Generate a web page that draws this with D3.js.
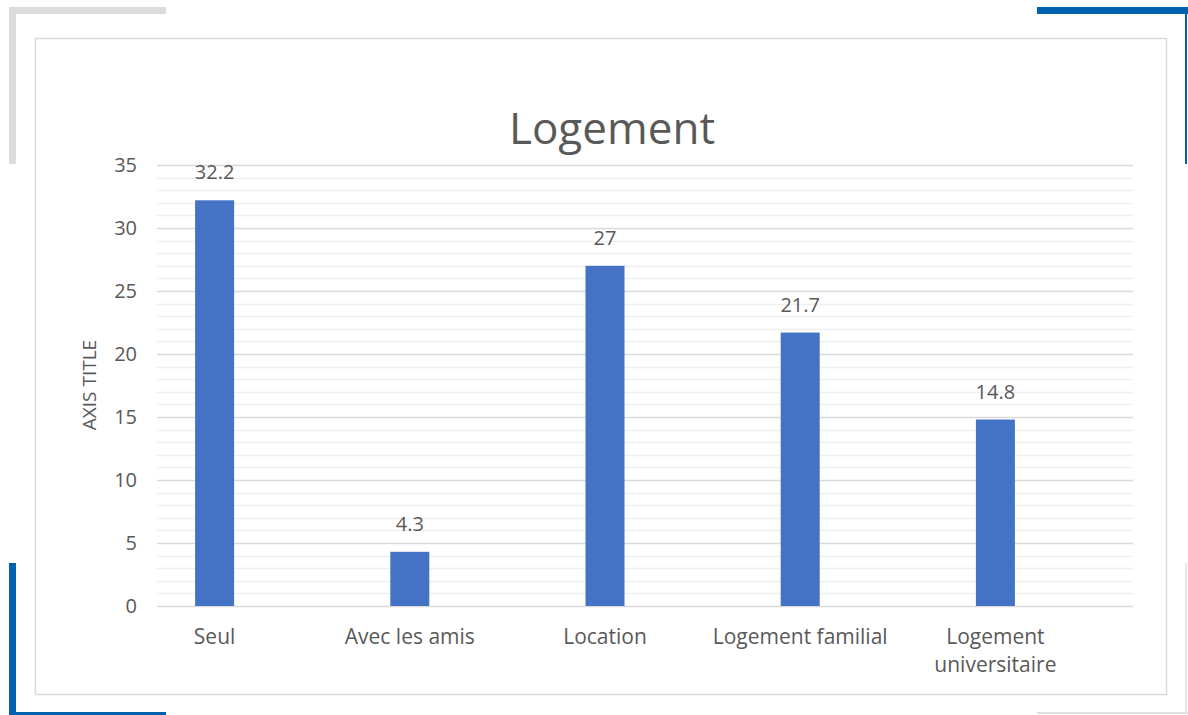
<!DOCTYPE html>
<html><head><meta charset="utf-8">
<script src="https://cdn.jsdelivr.net/npm/d3@7"></script>
<style>body{margin:0;background:#fff}svg{display:block}text{font-family:"Open Sans",sans-serif;fill:#595959}</style>
</head><body><svg id="c" width="1188" height="715"></svg>
<script>
const categories = ["Seul", "Avec les amis", "Location", "Logement familial", "Logement universitaire"];
const values = [32.2, 4.3, 27, 21.7, 14.8];
const labels = ["32.2", "4.3", "27", "21.7", "14.8"];
const yTicks = [0, 5, 10, 15, 20, 25, 30, 35];
const minorTicks = d3.range(0, 36, 1);
const title = "Logement";
const axisTitle = "AXIS TITLE";

const svg = d3.select("#c");
// decorative frame
svg.append("rect").attr("x",9).attr("y",7).attr("width",157).attr("height",7).attr("fill","#dcdcdc");
svg.append("rect").attr("x",9).attr("y",7).attr("width",7).attr("height",157).attr("fill","#dcdcdc");
svg.append("rect").attr("x",1037).attr("y",7).attr("width",151).attr("height",7).attr("fill","#0062ac");
svg.append("rect").attr("x",1185).attr("y",7).attr("width",2).attr("height",157).attr("fill","#0062ac");
svg.append("rect").attr("x",9).attr("y",563).attr("width",7).attr("height",152).attr("fill","#0062ac");
svg.append("rect").attr("x",9).attr("y",712).attr("width",157).attr("height",3).attr("fill","#0062ac");
svg.append("rect").attr("x",1037).attr("y",712).attr("width",151).attr("height",2).attr("fill","#e0e0e0");
svg.append("rect").attr("x",1185).attr("y",563).attr("width",2).attr("height",151).attr("fill","#e8e8e8");
svg.append("rect").attr("x",35.5).attr("y",38.5).attr("width",1131).attr("height",656).attr("fill","none").attr("stroke","#d9d9d9").attr("stroke-width",1.5);

const L = 157, R = 1133, T = 165, B = 606;
const y = d3.scaleLinear().domain([0,35]).range([B,T]);
const x = d3.scaleBand().domain(categories).range([L,R]);
const bw = 39, clusterShift = -40;

const g = svg.append("g");
g.selectAll("line.minor").data(minorTicks.filter(d=>d%5!==0)).enter().append("line")
  .attr("x1",L).attr("x2",R).attr("y1",d=>Math.round(y(d))+0.5).attr("y2",d=>Math.round(y(d))+0.5)
  .attr("stroke","#efefef").attr("stroke-width",1.5);
const yAxis = d3.axisLeft(y).tickValues(yTicks).tickSize(-(R-L)).tickPadding(20);
const ya = g.append("g").attr("transform",`translate(${L},0)`).call(yAxis);
ya.select(".domain").remove();
ya.selectAll(".tick line").attr("stroke","#d9d9d9").attr("stroke-width",1.5);
ya.selectAll(".tick text").style("font-size","20px").attr("fill","#595959");

g.selectAll("rect.bar").data(values).enter().append("rect")
  .attr("x",(d,i)=>x(categories[i])+x.bandwidth()/2+clusterShift-bw/2)
  .attr("width",bw).attr("y",d=>y(d)).attr("height",d=>B-y(d)).attr("fill","#4472c4");

g.selectAll("text.lbl").data(values).enter().append("text")
  .attr("x",(d,i)=>x(categories[i])+x.bandwidth()/2+clusterShift)
  .attr("y",d=>y(d)-21).attr("text-anchor","middle").style("font-size","20px").attr("fill","#404040")
  .text((d,i)=>labels[i]);

const xa = g.append("g");
categories.forEach((c,i)=>{
  const cx = x(c)+x.bandwidth()/2+clusterShift;
  const parts = c === "Logement universitaire" ? ["Logement","universitaire"] : [c];
  const t = xa.append("text").attr("x",cx).attr("y",644).attr("text-anchor","middle").style("font-size","21px");
  parts.forEach((p,j)=>t.append("tspan").attr("x",cx).attr("dy",j?28:0).text(p));
});

svg.append("text").attr("x",612).attr("y",144).attr("text-anchor","middle").style("font-size","44px").text(title);
svg.append("text").attr("transform","translate(96,385) rotate(-90)").attr("text-anchor","middle").style("font-size","19px").text(axisTitle);
</script></body></html>
